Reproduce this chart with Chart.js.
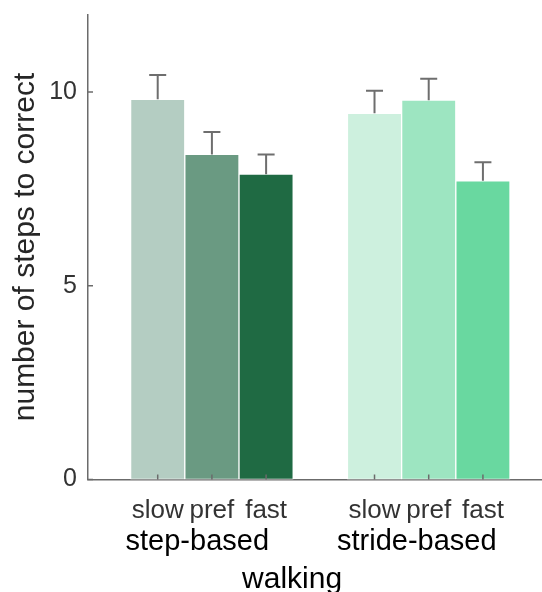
<!DOCTYPE html>
<html>
<head>
<meta charset="utf-8">
<script src="https://cdn.jsdelivr.net/npm/chart.js@4.4.0/dist/chart.umd.min.js"></script>
<style>
  html, body { margin: 0; padding: 0; background: #fff; }
  #wrap { width: 542px; height: 592px; }
</style>
</head>
<body>
<div id="wrap"><canvas id="barChart" width="542" height="592"></canvas></div>
<script>
const speeds = ["slow", "pref", "fast"];
const groups = ["step-based", "stride-based"];
const stepMeans = [9.81, 8.39, 7.88];
const stepErr = [0.63, 0.58, 0.51];
const strideMeans = [9.45, 9.79, 7.71];
const strideErr = [0.58, 0.55, 0.48];
// x positions on the linear axis (an empty slot between the two groups)
const barPos = [1, 2, 3, 5, 6, 7];
// group labels and the axis label sit a bit left of the group centres
const groupPos = [1.73, 5.78];
const xTitle = "walking";
const xTitlePos = 3.48;
const yTicks = [0, 5, 10];
const stepColors = ["#b4cdc2", "#6a9a82", "#1f6a43"];
const strideColors = ["#cdf0de", "#9de5c1", "#69d8a0"];

const FONT = "'Liberation Sans', Arial, sans-serif";
const AXIS = "#6b6b6b";

const means = stepMeans.concat(strideMeans);
const errs = stepErr.concat(strideErr);
const points = barPos.map((x, i) => ({ x: x, y: means[i] }));

const errorBars = {
  id: "errorBars",
  afterDatasetsDraw(chart) {
    const ctx = chart.ctx;
    const xs = chart.scales.x;
    const ys = chart.scales.y;
    const area = chart.chartArea;
    const meta = chart.getDatasetMeta(0);
    ctx.save();
    ctx.strokeStyle = "#6e6e6e";
    ctx.lineWidth = 2;
    meta.data.forEach((bar, i) => {
      const top = ys.getPixelForValue(means[i] + errs[i]);
      ctx.beginPath();
      ctx.moveTo(bar.x, bar.y);
      ctx.lineTo(bar.x, top);
      ctx.moveTo(bar.x - 8.5, top);
      ctx.lineTo(bar.x + 8.5, top);
      ctx.stroke();
    });
    // small inward tick marks
    ctx.strokeStyle = AXIS;
    ctx.lineWidth = 1.5;
    ys.ticks.forEach(t => {
      const py = ys.getPixelForValue(t.value);
      ctx.beginPath();
      ctx.moveTo(area.left, py);
      ctx.lineTo(area.left + 5, py);
      ctx.stroke();
    });
    xs.ticks.forEach(t => {
      const px = xs.getPixelForValue(t.value);
      ctx.beginPath();
      ctx.moveTo(px, area.bottom);
      ctx.lineTo(px, area.bottom - 5);
      ctx.stroke();
    });
    // x axis label
    ctx.fillStyle = "#000000";
    ctx.font = "30px " + FONT;
    ctx.textAlign = "center";
    ctx.textBaseline = "alphabetic";
    ctx.fillText(xTitle, xs.getPixelForValue(xTitlePos), chart.scales.x2.bottom - 4);
    ctx.restore();
  }
};

new Chart(document.getElementById("barChart"), {
  type: "bar",
  data: {
    datasets: [{
      data: points,
      backgroundColor: stepColors.concat(strideColors),
      borderColor: "#ffffff",
      borderWidth: 1,
      borderSkipped: false,
      barPercentage: 1,
      categoryPercentage: 1
    }]
  },
  options: {
    responsive: false,
    devicePixelRatio: 1,
    animation: false,
    layout: { padding: { top: 14.5, left: 0, right: 0, bottom: 0 } },
    plugins: { legend: { display: false }, tooltip: { enabled: false } },
    scales: {
      x: {
        type: "linear",
        position: "bottom",
        offset: false,
        min: -0.286,
        max: 8.09,
        afterBuildTicks: s => { s.ticks = barPos.map(v => ({ value: v })); },
        afterFit: s => { s.height = 47; s.paddingLeft = 0; s.paddingRight = 0; },
        grid: { display: false, drawTicks: false, offset: false },
        border: { display: true, color: AXIS, width: 1.5 },
        ticks: {
          font: { family: FONT, size: 26 },
          color: "#333333",
          padding: 15.9,
          maxRotation: 0,
          autoSkip: false,
          callback: (v, i) => speeds[i % speeds.length]
        }
      },
      x2: {
        type: "linear",
        position: "bottom",
        offset: false,
        min: -0.286,
        max: 8.09,
        afterBuildTicks: s => { s.ticks = groupPos.map(v => ({ value: v })); },
        afterFit: s => { s.height = 65.5; s.paddingLeft = 0; s.paddingRight = 0; },
        grid: { display: false, drawTicks: false, offset: false },
        border: { display: false },
        ticks: {
          font: { family: FONT, size: 29 },
          color: "#000000",
          padding: -1.9,
          maxRotation: 0,
          autoSkip: false,
          callback: (v, i) => groups[i]
        }
      },
      y: {
        min: 0,
        max: 12,
        afterBuildTicks: s => { s.ticks = yTicks.map(v => ({ value: v })); },
        afterFit: s => { s.width = 88; s.paddingTop = 0; s.paddingBottom = 0; },
        grid: { display: false, drawTicks: false },
        border: { display: true, color: AXIS, width: 1.5 },
        ticks: {
          font: { family: FONT, size: 25 },
          color: "#333333",
          padding: 11
        },
        title: {
          display: true,
          text: "number of steps to correct",
          font: { family: FONT, size: 30 },
          color: "#262626",
          padding: { top: 7.6, bottom: 0 }
        }
      }
    }
  },
  plugins: [errorBars]
});
</script>
</body>
</html>
